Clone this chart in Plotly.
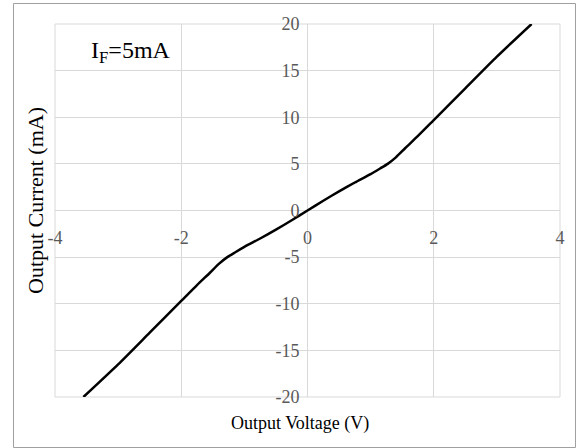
import plotly.graph_objects as go

# Output characteristic (odd-symmetric)
voltage_pos = [0.0, 0.25, 0.5, 0.75, 1.0, 1.15, 1.27, 1.4, 1.55, 1.75, 2.0, 2.5, 3.0, 3.55]
current_pos = [0.0, 1.05, 2.05, 3.0, 3.9, 4.5, 5.0, 5.7, 6.7, 8.0, 9.7, 13.1, 16.5, 20.0]

voltage = [-v for v in voltage_pos[:0:-1]] + voltage_pos
current = [-c for c in current_pos[:0:-1]] + current_pos

x_ticks = [-4, -2, 0, 2, 4]
y_ticks = [-20, -15, -10, -5, 0, 5, 10, 15, 20]

FONT = "Liberation Serif"
GRID = "#d9d9d9"
TICKCOL = "#595959"

W, H = 576, 448
L, R, T, B = 55, 16, 24, 51
PW, PH = W - L - R, H - T - B

def px_x(px):
    return (px - L) / PW

def px_y(py):
    return (H - B - py) / PH

fig = go.Figure()
fig.add_trace(go.Scatter(
    x=voltage, y=current, mode="lines",
    line=dict(color="black", width=2.5, shape="spline", smoothing=0.6),
    showlegend=False, hoverinfo="skip",
))

fig.update_layout(
    width=W, height=H,
    margin=dict(l=L, r=R, t=T, b=B),
    paper_bgcolor="white", plot_bgcolor="white",
    font=dict(family=FONT, color=TICKCOL, size=18),
    xaxis=dict(
        range=[-4, 4], tickvals=x_ticks, ticktext=[str(v) for v in x_ticks],
        showgrid=True, gridcolor=GRID, gridwidth=1,
        zeroline=True, zerolinecolor=GRID, zerolinewidth=1,
        showline=False, anchor="free", position=0.5,
        ticks="", ticklabelstandoff=14,
        tickfont=dict(family=FONT, size=18, color=TICKCOL),
        fixedrange=True,
    ),
    yaxis=dict(
        range=[-20, 20], tickvals=y_ticks, ticktext=[str(v) for v in y_ticks],
        showgrid=True, gridcolor=GRID, gridwidth=1,
        zeroline=True, zerolinecolor=GRID, zerolinewidth=1,
        showline=False, anchor="free", position=0.5,
        ticks="", ticklabelstandoff=8,
        tickfont=dict(family=FONT, size=18, color=TICKCOL),
        fixedrange=True,
    ),
    shapes=[
        dict(type="rect", xref="paper", yref="paper", x0=0, x1=1, y0=0, y1=1,
             line=dict(color=GRID, width=1), layer="below"),
        dict(type="rect", xref="paper", yref="paper",
             x0=px_x(13.5), x1=px_x(575.5), y0=px_y(447.5), y1=px_y(3.5),
             line=dict(color="#a0a0a0", width=1), layer="below"),
    ],
    annotations=[
        dict(text="Output Voltage (V)", xref="paper", yref="paper",
             x=px_x(300), y=px_y(423), xanchor="center", yanchor="middle",
             showarrow=False, font=dict(family=FONT, size=18, color="black")),
        dict(text="Output Current (mA)", xref="paper", yref="paper",
             x=px_x(35), y=px_y(201), xanchor="center", yanchor="middle",
             textangle=-90, showarrow=False,
             font=dict(family=FONT, size=22, color="black")),
        dict(text="I<sub>F</sub>=5mA", xref="paper", yref="paper",
             x=px_x(89), y=px_y(52), xanchor="left", yanchor="middle",
             showarrow=False, font=dict(family=FONT, size=24, color="black")),
    ],
)

fig.write_html(
    "out.html",
    config={"displayModeBar": False, "staticPlot": True},
    post_script="document.body.style.margin='0';document.body.style.overflow='hidden';",
)
